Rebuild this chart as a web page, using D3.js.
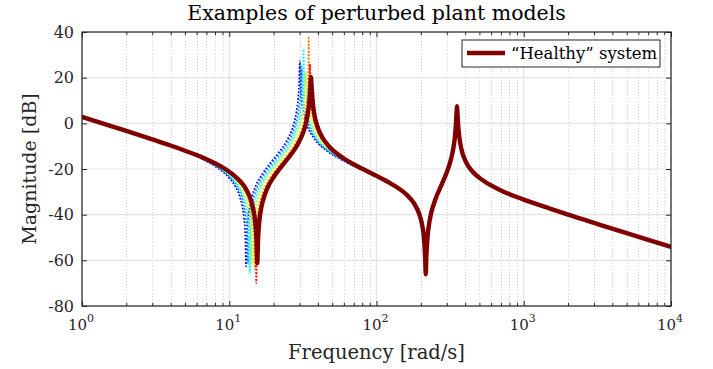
<!DOCTYPE html>
<html>
<head>
<meta charset="utf-8">
<script src="https://cdn.jsdelivr.net/npm/d3@7"></script>
<style>
  body { margin: 0; background: #fff; }
  svg { display: block; font-family: "DejaVu Serif", "Liberation Serif", serif; }
</style>
</head>
<body>
<div id="chart"></div>
<script>
//////////////////////////////////////////////
// Data //////////////////////////////////////
//////////////////////////////////////////////
// values (frequency in rad/s, magnitude in dB)

var healthyFreq = [1, 1.5, 2, 3, 4, 5, 6, 7, 8, 9, 10, 11, 12, 13, 14, 14.5, 15, 15.3, 15.5, 15.7,
  16, 16.5, 17, 18, 20, 22, 25, 28, 30, 32, 33, 34, 35, 35.5, 35.9, 36.3, 37, 38, 40, 43,
  47, 50, 60, 70, 80, 100, 120, 140, 160, 180, 195, 205, 210, 214, 216, 218, 222, 230, 250, 280,
  310, 330, 340, 346, 350, 352, 354, 358, 365, 380, 400, 450, 500, 600, 700, 1000, 1500, 2000, 3000, 5000,
  7000, 10000];
var healthyMag = [2.8, -0.8, -3.3, -7.0, -9.7, -12.0, -13.9, -15.7, -17.5, -19.3, -21.2, -23.3, -25.7, -28.8, -33.4, -37.0, -43.0, -50.6, -61.2, -50.6,
  -43.0, -37.0, -33.5, -28.9, -23.6, -19.9, -15.4, -11.1, -7.7, -3.5, -0.6, 3.3, 9.6, 15.4, 20.2, 15.6, 8.5, 3.3, -2.0, -6.3,
  -9.7, -11.5, -15.4, -17.9, -19.9, -23.0, -25.7, -28.3, -31.2, -35.1, -39.7, -45.1, -50.1, -58.9, -66.1, -58.7, -49.9, -42.3, -33.7, -26.1,
  -18.9, -12.1, -6.5, -0.7, 5.4, 7.5, 5.6, -0.2, -5.9, -12.1, -16.2, -21.2, -23.9, -27.2, -29.4, -33.4, -37.3, -40.0, -43.6, -48.1,
  -51.0, -54.1];

// perturbed models (only where they differ from the healthy one)
var blueFreq = [3.36, 5.04, 6.72, 8.4, 10.08, 10.92, 11.76, 12.18, 12.6, 12.85, 13.02, 13.19, 13.44, 13.86, 14.28, 15.12, 16.8, 19.32, 21.84, 24.36, 26.88, 28.56, 29.4, 29.82, 30.16, 30.49, 31.08, 31.92, 33.6, 37.8, 46.2, 58.8, 84];
var blueMag = [-8.2, -12.4, -16.0, -19.7, -24.2, -27.3, -31.9, -35.5, -41.5, -49.1, -62.6, -49.1, -41.5, -35.5, -32.0, -27.4, -22.1, -16.8, -12.5, -8.0, -2.0, 4.8, 11.1, 16.9, 27.3, 17.1, 10.0, 4.8, -0.5, -6.7, -12.1, -16.2, -21.0];

var azureFreq = [3.46, 5.19, 6.92, 8.65, 10.38, 11.25, 12.11, 12.54, 12.98, 13.23, 13.41, 13.58, 13.84, 14.27, 14.71, 15.57, 17.3, 19.9, 22.49, 25.09, 27.68, 29.41, 30.28, 30.71, 31.05, 31.4, 32.01, 32.87, 34.6, 38.93, 47.58, 60.55, 86.5];
var azureMag = [-8.4, -12.6, -16.2, -19.9, -24.4, -27.5, -32.1, -35.7, -41.7, -49.3, -61.5, -49.3, -41.7, -35.7, -32.2, -27.6, -22.3, -17.0, -12.7, -8.2, -2.2, 4.6, 10.9, 16.7, 24.7, 16.9, 9.8, 4.6, -0.7, -6.9, -12.3, -16.4, -21.3];

var cyanFreq = [3.56, 5.34, 7.12, 8.9, 10.68, 11.57, 12.46, 12.91, 13.35, 13.62, 13.8, 13.97, 14.24, 14.69, 15.13, 16.02, 17.8, 20.47, 23.14, 25.81, 28.48, 30.26, 31.15, 31.6, 31.95, 32.31, 32.93, 33.82, 35.6, 40.05, 48.95, 62.3, 89];
var cyanMag = [-8.7, -12.9, -16.5, -20.2, -24.7, -27.8, -32.4, -36.0, -42.0, -49.6, -65.8, -49.6, -42.0, -36.0, -32.5, -27.9, -22.6, -17.3, -13.0, -8.5, -2.5, 4.3, 10.6, 16.4, 32.4, 16.6, 9.5, 4.3, -1.0, -7.2, -12.6, -16.6, -21.7];

var greenFreq = [3.66, 5.49, 7.32, 9.15, 10.98, 11.9, 12.81, 13.27, 13.73, 14.0, 14.18, 14.37, 14.64, 15.1, 15.56, 16.47, 18.3, 21.05, 23.79, 26.54, 29.28, 31.11, 32.03, 32.48, 32.85, 33.21, 33.86, 34.77, 36.6, 41.18, 50.33, 64.05, 91.5];
var greenMag = [-8.9, -13.1, -16.7, -20.4, -24.9, -28.0, -32.6, -36.2, -42.2, -49.8, -62.0, -49.8, -42.2, -36.2, -32.7, -28.1, -22.8, -17.5, -13.2, -8.7, -2.7, 4.1, 10.4, 16.2, 22.5, 16.4, 9.3, 4.1, -1.2, -7.4, -12.8, -16.8, -21.9];

var yellowFreq = [3.76, 5.64, 7.52, 9.4, 11.28, 12.22, 13.16, 13.63, 14.1, 14.38, 14.57, 14.76, 15.04, 15.51, 15.98, 16.92, 18.8, 21.62, 24.44, 27.26, 30.08, 31.96, 32.9, 33.37, 33.75, 34.12, 34.78, 35.72, 37.6, 42.3, 51.7, 65.8, 94];
var yellowMag = [-9.2, -13.4, -17.0, -20.7, -25.2, -28.3, -32.9, -36.5, -42.5, -50.1, -61.5, -50.1, -42.5, -36.5, -33.0, -28.4, -23.1, -17.8, -13.5, -9.0, -3.0, 3.8, 10.1, 15.9, 22.0, 16.1, 9.0, 3.8, -1.5, -7.7, -13.1, -17.2, -22.4];

var orangeFreq = [3.86, 5.79, 7.72, 9.65, 11.58, 12.55, 13.51, 13.99, 14.48, 14.76, 14.96, 15.15, 15.44, 15.92, 16.41, 17.37, 19.3, 22.2, 25.09, 27.99, 30.88, 32.81, 33.78, 34.26, 34.64, 35.03, 35.71, 36.67, 38.6, 43.43, 53.08, 67.55, 96.5];
var orangeMag = [-9.4, -13.6, -17.2, -20.9, -25.4, -28.5, -33.1, -36.7, -42.7, -50.3, -64.0, -50.3, -42.7, -36.7, -33.2, -28.6, -23.3, -18.0, -13.7, -9.2, -3.2, 3.6, 9.9, 15.7, 38.0, 15.9, 8.8, 3.6, -1.7, -7.9, -13.4, -17.6, -22.8];

var redFreq = [3.94, 5.91, 7.88, 9.85, 11.82, 12.81, 13.79, 14.28, 14.78, 15.07, 15.27, 15.46, 15.76, 16.25, 16.75, 17.73, 19.7, 22.66, 25.61, 28.57, 31.52, 33.49, 34.48, 34.97, 35.36, 35.76, 36.45, 37.43, 39.4, 44.33, 54.18, 68.95, 98.5];
var redMag = [-9.6, -13.8, -17.4, -21.1, -25.6, -28.7, -33.3, -36.9, -42.9, -50.5, -70.0, -50.5, -42.9, -36.9, -33.4, -28.8, -23.5, -18.2, -13.9, -9.4, -3.4, 3.4, 9.7, 15.5, 26.0, 15.7, 8.6, 3.4, -1.9, -8.1, -13.6, -17.8, -22.9];

var yTicks = [-80, -60, -40, -20, 0, 20, 40];
var xDecades = [0, 1, 2, 3, 4];

var perturbed = [
  {freq: blueFreq, mag: blueMag, color: "#0000ff"},
  {freq: azureFreq, mag: azureMag, color: "#0080ff"},
  {freq: cyanFreq, mag: cyanMag, color: "#00ffff"},
  {freq: greenFreq, mag: greenMag, color: "#80ff80"},
  {freq: yellowFreq, mag: yellowMag, color: "#ffff00"},
  {freq: orangeFreq, mag: orangeMag, color: "#ff8000"},
  {freq: redFreq, mag: redMag, color: "#ff0000"}
];

function zip(f, m) {
  return f.map(function(v, i) { return [v, m[i]]; });
}

//////////////////////////////////////////////
// Chart Config //////////////////////////////
//////////////////////////////////////////////
var W = 713, H = 369;
var margin = {top: 32, right: 42, bottom: 63, left: 82};
var width = W - margin.left - margin.right,
    height = H - margin.top - margin.bottom;

var xScale = d3.scaleLog().domain([1, 1e4]).range([0, width]);
var yScale = d3.scaleLinear().domain([-80, 40]).range([height, 0]);

var axisColor = "#262626";

var svg = d3.select("#chart").append("svg")
    .attr("width", W)
    .attr("height", H);

svg.append("defs").append("clipPath").attr("id", "clip")
  .append("rect").attr("width", width).attr("height", height);

var artboard = svg.append("g")
    .attr("transform", "translate(" + margin.left + "," + margin.top + ")");

// minor ticks positions 2..9 per decade
var minorTicks = [];
xDecades.slice(0, -1).forEach(function(e) {
  for (var k = 2; k <= 9; k++) minorTicks.push(k * Math.pow(10, e));
});
var majorTicks = xDecades.map(function(e) { return Math.pow(10, e); });

// grid
var grid = artboard.append("g");
grid.selectAll(".minor").data(minorTicks).enter().append("line")
    .attr("x1", function(d) { return Math.round(xScale(d)) + 0.5; })
    .attr("x2", function(d) { return Math.round(xScale(d)) + 0.5; })
    .attr("y1", 0).attr("y2", height)
    .style("stroke", "#d4d4d4")
    .style("stroke-width", 1)
    .style("stroke-dasharray", "1,2");
grid.selectAll(".majorx").data(majorTicks).enter().append("line")
    .attr("x1", function(d) { return xScale(d); })
    .attr("x2", function(d) { return xScale(d); })
    .attr("y1", 0).attr("y2", height)
    .style("stroke", "#e3e3e3")
    .style("stroke-width", 1.2);
grid.selectAll(".majory").data(yTicks).enter().append("line")
    .attr("x1", 0).attr("x2", width)
    .attr("y1", function(d) { return yScale(d); })
    .attr("y2", function(d) { return yScale(d); })
    .style("stroke", "#e3e3e3")
    .style("stroke-width", 1.2);

// lines
var line = d3.line()
    .curve(d3.curveMonotoneX)
    .x(function(d) { return xScale(d[0]); })
    .y(function(d) { return yScale(d[1]); });

var plot = artboard.append("g").attr("clip-path", "url(#clip)");

perturbed.forEach(function(s) {
  plot.append("path").datum(zip(s.freq, s.mag))
      .attr("d", line)
      .style("fill", "none")
      .style("stroke", s.color)
      .style("stroke-width", 1.7)
      .style("stroke-dasharray", "1.7,1.7");
});

plot.append("path").datum(zip(healthyFreq, healthyMag))
    .attr("d", line)
    .style("fill", "none")
    .style("stroke", "#800000")
    .style("stroke-width", 4.4)
    .style("stroke-linejoin", "round")
    .style("stroke-linecap", "round");

// axes (ticks inside, box on)
var xAxisB = d3.axisBottom(xScale).tickValues(majorTicks).tickSize(-5).tickFormat("");
var xAxisT = d3.axisTop(xScale).tickValues(majorTicks).tickSize(-5).tickFormat("");
var xMinorB = d3.axisBottom(xScale).tickValues(minorTicks).tickSize(-3).tickFormat("");
var xMinorT = d3.axisTop(xScale).tickValues(minorTicks).tickSize(-3).tickFormat("");
var yAxisL = d3.axisLeft(yScale).tickValues(yTicks).tickSize(-5).tickFormat("");
var yAxisR = d3.axisRight(yScale).tickValues(yTicks).tickSize(-5).tickFormat("");

[
  [xAxisB, "translate(0," + height + ")"],
  [xMinorB, "translate(0," + height + ")"],
  [xAxisT, "translate(0,0)"],
  [xMinorT, "translate(0,0)"],
  [yAxisL, "translate(0,0)"],
  [yAxisR, "translate(" + width + ",0)"]
].forEach(function(a) {
  var g = artboard.append("g").attr("transform", a[1]).call(a[0]);
  g.select(".domain").remove();
  g.selectAll("line").style("stroke", axisColor).style("stroke-width", 1);
});

artboard.append("rect")
    .attr("width", width).attr("height", height)
    .style("fill", "none")
    .style("stroke", axisColor)
    .style("stroke-width", 1.2);

// tick labels
artboard.selectAll(".ylab").data(yTicks).enter().append("text")
    .attr("x", -8)
    .attr("y", function(d) { return yScale(d); })
    .attr("dy", "0.36em")
    .attr("text-anchor", "end")
    .style("font-size", "16px")
    .style("fill", axisColor)
    .text(function(d) { return d === 0 ? "0" : (d < 0 ? "-" + (-d) : String(d)); });

var xl = artboard.selectAll(".xlab").data(xDecades).enter().append("text")
    .attr("x", function(d) { return xScale(Math.pow(10, d)) - 1; })
    .attr("y", height + 24)
    .attr("text-anchor", "middle")
    .style("font-size", "15px")
    .style("fill", axisColor);
xl.append("tspan").text("10");
xl.append("tspan").attr("dy", -8).style("font-size", "11px").text(function(d) { return d; });

// titles
svg.append("text")
    .attr("x", margin.left + width / 2)
    .attr("y", 20)
    .attr("text-anchor", "middle")
    .style("font-size", "20.5px")
    .style("fill", "#000")
    .text("Examples of perturbed plant models");

svg.append("text")
    .attr("x", margin.left + width / 2)
    .attr("y", 359)
    .attr("text-anchor", "middle")
    .style("font-size", "19.5px")
    .style("fill", axisColor)
    .text("Frequency [rad/s]");

svg.append("text")
    .attr("transform", "translate(36," + (margin.top + height / 2) + ") rotate(-90)")
    .attr("text-anchor", "middle")
    .style("font-size", "19px")
    .style("fill", axisColor)
    .text("Magnitude [dB]");

// legend
var legend = svg.append("g").attr("transform", "translate(462,40)");
legend.append("rect")
    .attr("width", 198).attr("height", 27)
    .style("fill", "#fff")
    .style("stroke", axisColor)
    .style("stroke-width", 1);
legend.append("line")
    .attr("x1", 5).attr("x2", 43).attr("y1", 13).attr("y2", 13)
    .style("stroke", "#800000").style("stroke-width", 4.4);
legend.append("text")
    .attr("x", 49).attr("y", 19)
    .style("font-size", "16.5px")
    .style("fill", "#000")
    .text("\u201CHealthy\u201D system");
</script>
</body>
</html>
